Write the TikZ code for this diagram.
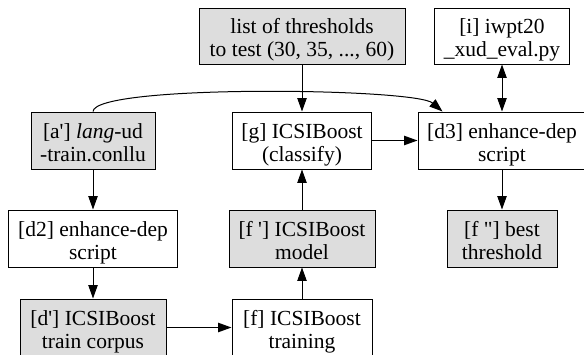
\documentclass[tikz,border=0pt]{standalone}
\usepackage{fontspec}
\setmainfont{Liberation Serif}[Ligatures=TeXOff]
\usetikzlibrary{arrows.meta}
\definecolor{boxgray}{HTML}{DDDDDD}
\newcommand\twoline[2]{\begin{tabular}[b]{@{}c@{}}#1\\#2\end{tabular}}
\begin{document}
\begin{tikzpicture}[x=1pt,y=-1pt,
  box/.style={draw=black,line width=1pt,inner sep=0pt,
    text height=41pt,text depth=0pt,
    font=\fontsize{21.5}{23}\selectfont},
  gbox/.style={box,fill=boxgray},
  tip/.tip={Triangle[length=13.3pt,width=9.3pt]},
  arr/.style={-tip,line width=1pt},
  darr/.style={tip-tip,line width=1pt}]
\useasboundingbox (0,0) rectangle (584,354);
\clip (0,0) rectangle (584,354);
% top row
\node[gbox,minimum width=206pt,minimum height=56pt] (thr) at (302,36) {\twoline{list of thresholds}{to test (30, 35, ..., 60)}};
\node[box,minimum width=135pt,minimum height=56pt] (i) at (502,36) {\twoline{[i] iwpt20}{\_xud\_eval.py}};
% second row
\node[gbox,minimum width=124pt,minimum height=57pt] (a) at (93,140.5) {\twoline{[a'] \textit{lang}-ud}{-train.conllu}};
\node[box,minimum width=139pt,minimum height=57pt] (g) at (302,140.5) {\twoline{[g] ICSIBoost}{(classify)}};
\node[box,minimum width=168pt,minimum height=57pt] (d3) at (502,140.5) {\twoline{[d3] enhance-dep}{script}};
% third row
\node[box,minimum width=169pt,minimum height=57pt] (d2) at (93,238.5) {\twoline{[d2] enhance-dep}{script}};
\node[gbox,minimum width=146pt,minimum height=57pt] (fp) at (302,238.5) {\twoline{[f '] ICSIBoost}{model}};
\node[gbox,minimum width=110pt,minimum height=57pt] (fpp) at (502,238.5) {\twoline{[f "] best}{threshold}};
% fourth row
\node[gbox,minimum width=146pt,minimum height=57pt] (dp) at (93,327.5) {\twoline{[d'] ICSIBoost}{train corpus}};
\node[box,minimum width=140pt,minimum height=57pt] (f) at (302,327.5) {\twoline{[f] ICSIBoost}{training}};
% connectors
\draw[arr] (thr.south) -- (g.north);
\draw[darr] (i.south) -- (d3.north);
\draw[arr] (a.north) .. controls (95,84) and (415,88) .. (d3.154.6);
\draw[arr] (g.east) -- (d3.west);
\draw[arr] (a.south) -- (d2.north);
\draw[arr] (d2.south) -- (dp.north);
\draw[arr] (dp.east) -- (f.west);
\draw[arr] (f.north) -- (fp.south);
\draw[arr] (fp.north) -- (g.south);
\draw[arr] (d3.south) -- (fpp.north);
\end{tikzpicture}
\end{document}
